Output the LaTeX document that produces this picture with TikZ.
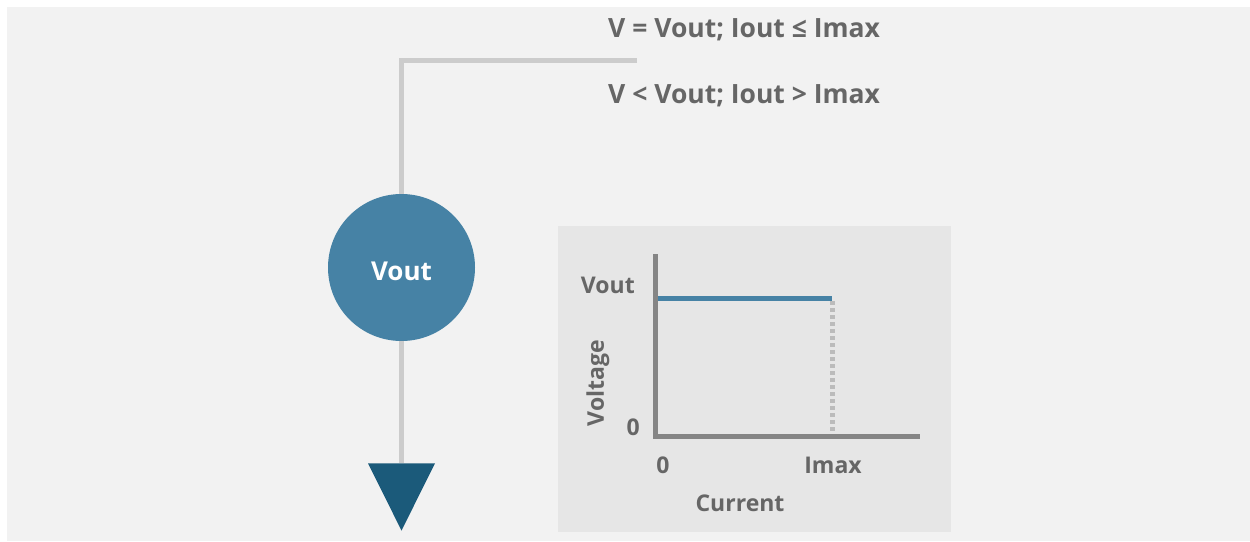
\documentclass[tikz,border=0pt]{standalone}
\usepackage{fontspec}
\usetikzlibrary{shapes.geometric}
\setmainfont{Open Sans}
\definecolor{bg}{HTML}{F2F2F2}
\definecolor{panel}{HTML}{E6E6E6}
\definecolor{wire}{HTML}{CCCCCC}
\definecolor{srcblue}{HTML}{4682A5}
\definecolor{gnd}{HTML}{1B5A7A}
\definecolor{axis}{HTML}{858585}
\definecolor{dots}{HTML}{BBBBBB}
\definecolor{txt}{HTML}{666666}
\tikzset{
  lbl/.style={text=txt, font=\fontsize{26.5}{30}\selectfont\bfseries, inner sep=0pt},
  small/.style={text=txt, font=\fontsize{23}{27}\selectfont\bfseries, inner sep=0pt},
}
\begin{document}
\begin{tikzpicture}[x=1pt,y=-1pt]
\useasboundingbox (0,0) rectangle (1250,541);
\fill[bg] (7,7) rectangle (1250,541);
% wire
\coordinate (wireend) at (637,60.5);
\coordinate (corner) at (401.5,60.5);
\node[circle, fill=srcblue, minimum size=147pt, inner sep=0pt, text=white, text height=25.5pt, text depth=0pt, font=\fontsize{26}{30}\selectfont\bfseries] (src) at (401.5,267.5) {Vout};
\node[isosceles triangle, isosceles triangle apex angle=53, shape border rotate=-90, fill=gnd, inner sep=0pt, minimum height=67pt, minimum width=67pt, anchor=apex] (ground) at (401.5,531) {};
\draw[wire, line width=5pt] (wireend) -- (corner) -- (src.north);
\draw[wire, line width=5pt] (src.south) -- (ground.north);
\node[lbl, anchor=west] (t1) at (608,29.5) {V = Vout; Iout ≤ Imax};
\node[lbl, anchor=west] (t2) at (608,95.5) {V < Vout; Iout > Imax};
% panel
\fill[panel] (558,226) rectangle (951,532);
\coordinate (ytop) at (655.5,254);
\coordinate (orig) at (655.5,436.5);
\coordinate (xend) at (920,436.5);
\coordinate (vstart) at (658,298.5);
\coordinate (vend) at (832,298.5);
\coordinate (dbot) at (832,431);
\draw[dots, line width=5pt, dash pattern=on 4pt off 3pt] (832,301) -- (dbot);
\draw[srcblue, line width=4.5pt] (vstart) -- (vend);
\draw[axis, line width=5pt] (ytop) -- (orig.center) -- (xend);
\node[small, anchor=east] (lv) at (635,285) {Vout};
\node[small, anchor=east] (l0y) at (640,427) {0};
\node[small, rotate=90] (lvolt) at (598,383) {Voltage};
\node[small] (l0x) at (663,465) {0};
\node[small] (limax) at (833,465) {Imax};
\node[small] (lcur) at (740,503) {Current};
\end{tikzpicture}
\end{document}
